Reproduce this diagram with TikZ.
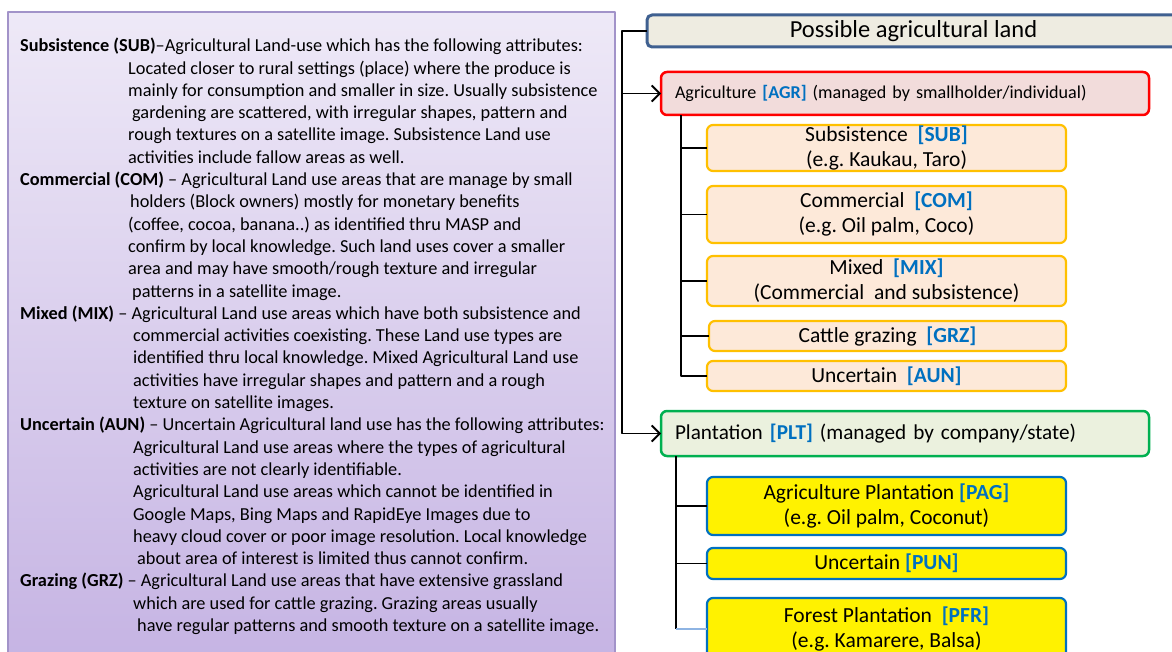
\documentclass[tikz,border=0pt]{standalone}
\usepackage{fontspec}
\setmainfont{Carlito}
\usepackage{tikz}
\usetikzlibrary{arrows.meta}

\definecolor{paneltop}{HTML}{EEE9F7}
\definecolor{panelbot}{HTML}{C5B3E3}
\definecolor{panelline}{HTML}{A293C9}
\definecolor{rootline}{HTML}{3F6090}
\definecolor{rootfill}{HTML}{EEECE1}
\definecolor{agrfill}{HTML}{F2DCDB}
\definecolor{pltline}{HTML}{00B050}
\definecolor{pltfill}{HTML}{EBF1DE}
\definecolor{subline}{HTML}{FFC000}
\definecolor{subfill}{HTML}{FDE9D9}
\definecolor{tagblue}{HTML}{0070C0}
\definecolor{tickblue}{HTML}{8EB4E3}

\newcommand{\lutag}[1]{\textcolor{tagblue}{\textbf{[#1]}}}
\newcommand{\landitem}[3]{\par\hangindent=#1pt\hangafter=1\noindent\textbf{#2}#3}
\newcommand{\nudge}{\hspace*{4pt}}

\tikzset{
  box/.style={anchor=north west, inner sep=0pt, outer sep=0pt, rounded corners=6pt,
    align=center, font=\fontsize{21.5}{25}\selectfont},
  rootbox/.style={box, draw=rootline, line width=3pt, fill=rootfill, rounded corners=5pt,
    font=\fontsize{24.5}{28}\selectfont},
  agrbox/.style={box, draw=red, line width=2.5pt, fill=agrfill},
  pltbox/.style={box, draw=pltline, line width=2.5pt, fill=pltfill},
  subbox/.style={box, draw=subline, line width=2.2pt, fill=subfill, minimum width=359pt},
  plantbox/.style={box, draw=tagblue, line width=2.2pt, fill=yellow, minimum width=359pt},
  link/.style={line width=1.6pt},
  feed/.style={link, -{Straight Barb[length=8pt,width=16pt,line width=1.8pt]}},
}

\begin{document}
\frenchspacing
\begin{tikzpicture}[x=1pt,y=1pt,line join=round]
\useasboundingbox (0,0) rectangle (1172,-652);
\clip (0,0) rectangle (1172,-652);

% notes panel
\shade[top color=paneltop, bottom color=panelbot, draw=panelline, line width=1.2pt]
  (8,-12) rectangle (615,-670);
\node[anchor=north west, inner sep=0pt] (notes) at (20,-38) {%
\begin{minipage}{640pt}\fontsize{18.3}{22.3}\selectfont\frenchspacing
\landitem{108}{Subsistence (SUB)}{--Agricultural Land-use which has the following attributes:\newline
Located closer to rural settings (place) where the produce is\newline
mainly for consumption and smaller in size. Usually subsistence\newline
\nudge gardening are scattered, with irregular shapes, pattern and\newline
rough textures on a satellite image. Subsistence Land use\newline
activities include fallow areas as well.}
\landitem{108}{Commercial (COM)}{ -- Agricultural Land use areas that are manage by small\newline
\hspace*{2pt}holders (Block owners) mostly for monetary benefits\newline
(coffee, cocoa, banana..) as identified thru MASP and\newline
confirm by local knowledge. Such land uses cover a smaller\newline
area and may have smooth/rough texture and irregular\newline
\nudge patterns in a satellite image.}
\landitem{113}{Mixed (MIX)}{ -- Agricultural Land use areas which have both subsistence and\newline
commercial activities coexisting. These Land use types are\newline
identified thru local knowledge. Mixed Agricultural Land use\newline
activities have irregular shapes and pattern and a rough\newline
texture on satellite images.}
\landitem{113}{Uncertain (AUN)}{ -- Uncertain Agricultural land use has the following attributes:\newline
Agricultural Land use areas where the types of agricultural\newline
activities are not clearly identifiable.\newline
Agricultural Land use areas which cannot be identified in\newline
Google Maps, Bing Maps and RapidEye Images due to\newline
heavy cloud cover or poor image resolution. Local knowledge\newline
\nudge about area of interest is limited thus cannot confirm.}
\landitem{113}{Grazing (GRZ)}{ -- Agricultural Land use areas that have extensive grassland\newline
which are used for cattle grazing. Grazing areas usually\newline
\nudge have regular patterns and smooth texture on a satellite image.}
\end{minipage}};

% tree
\node[rootbox, minimum width=533pt, minimum height=32pt] (root) at (647,-15) {Possible agricultural land};
\node[agrbox, minimum width=488pt, minimum height=43pt, text width=460pt, align=left,
  font=\fontsize{18.1}{22}\selectfont] (agr) at (661,-72)
  {Agriculture \lutag{AGR} (managed by smallholder/individual)};
\node[subbox, minimum height=46pt] (sub) at (707,-125) {Subsistence\ \ \lutag{SUB}\\(e.g. Kaukau, Taro)};
\node[subbox, minimum height=57pt] (com) at (707,-186) {Commercial\ \ \lutag{COM}\\(e.g. Oil palm, Coco)};
\node[subbox, minimum height=50pt] (mix) at (707,-256) {Mixed\ \ \lutag{MIX}\\(Commercial\ \ and subsistence)};
\node[subbox, minimum height=30pt, minimum width=357pt] (grz) at (709,-321) {Cattle grazing\ \ \lutag{GRZ}};
\node[subbox, minimum height=30pt] (aun) at (707,-361) {Uncertain\ \ \lutag{AUN}};
\node[pltbox, minimum width=488pt, minimum height=45pt, text width=460pt, align=left,
  font=\fontsize{21.2}{25}\selectfont] (plt) at (661,-411)
  {Plantation \lutag{PLT} (managed by company/state)};
\node[plantbox, minimum height=58pt] (pag) at (707,-477) {Agriculture Plantation \lutag{PAG}\\(e.g. Oil palm, Coconut)};
\node[plantbox, minimum height=31pt] (pun) at (707,-548) {Uncertain \lutag{PUN}};
\node[plantbox, minimum height=62pt] (pfr) at (707,-598) {Forest Plantation\ \ \lutag{PFR}\\(e.g. Kamarere, Balsa)};

\coordinate (trunk) at ([xshift=-25pt]root.west);
\draw[feed] (root.west) -- (trunk) |- (plt.west);
\draw[feed] (trunk |- agr.west) -- (agr.west);

\coordinate (agrtrunk) at ([xshift=20pt]agr.south west);
\draw[link] (agrtrunk) |- (aun.west);
\draw[link] (agrtrunk |- sub.west) -- (sub.west);
\draw[link] (agrtrunk |- com.west) -- (com.west);
\draw[link] (agrtrunk |- mix.west) -- (mix.west);
\draw[link] (agrtrunk |- grz.west) -- (grz.west);

\coordinate (plttrunk) at ([xshift=15pt]plt.south west);
\draw[link] (plttrunk) -- (plttrunk |- pfr.west);
\draw[link] (plttrunk |- pag.west) -- (pag.west);
\draw[link] (plttrunk |- pun.west) -- (pun.west);
\draw[link, tickblue] (plttrunk |- pfr.west) -- (pfr.west);
\end{tikzpicture}
\end{document}
